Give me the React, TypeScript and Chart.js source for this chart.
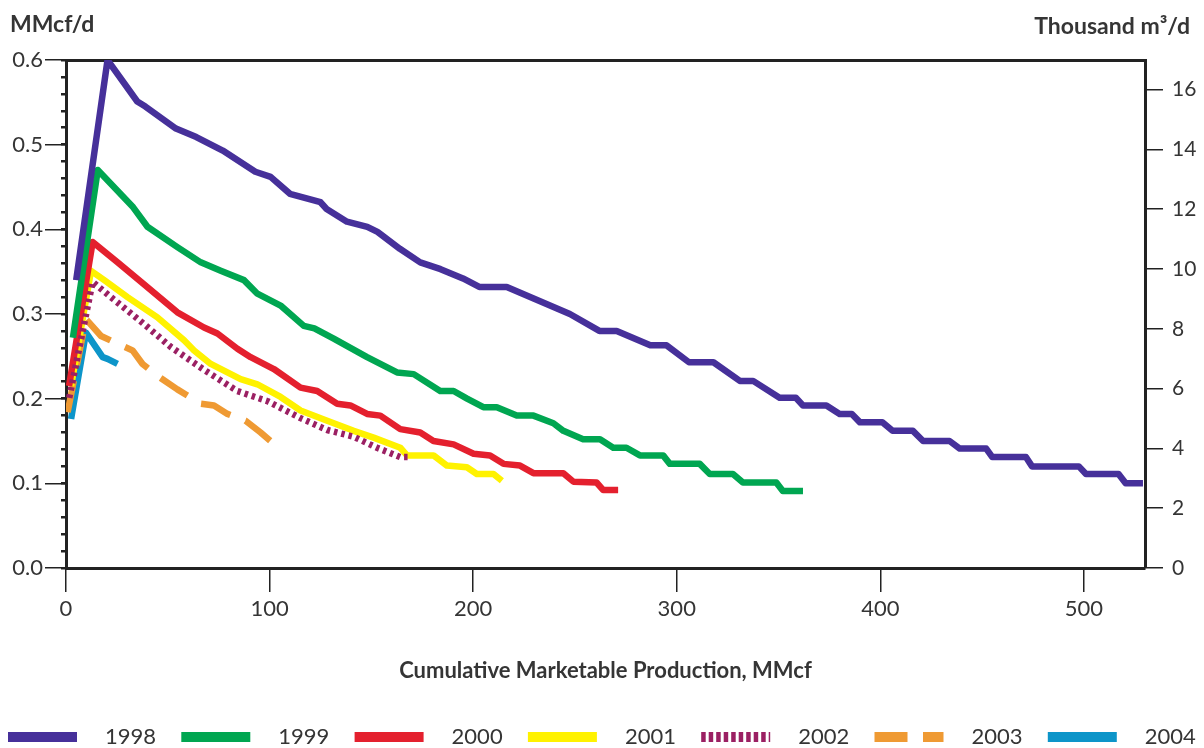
import React, { useEffect, useRef } from 'react';
import { Chart, registerables } from 'chart.js';

Chart.register(...registerables);

// ---- Data (Cumulative Marketable Production MMcf vs MMcf/d) ----
const years = ['1998', '1999', '2000', '2001', '2002', '2003', '2004'];

const x1998 = [5, 20.4, 35, 39, 54, 64, 77, 93, 100.5, 110, 125, 128, 138, 148, 153, 164, 174, 184, 195, 203, 216.5, 230, 247.5, 262, 270.5, 287, 295, 306, 318, 331, 337.5, 350.5, 358.5, 362, 373.5, 380, 386, 390, 401, 406, 416, 421, 434, 439, 452, 455, 471.5, 474.5, 497.5, 501, 517, 520.5, 529];
const y1998 = [0.34, 0.6, 0.551, 0.545, 0.519, 0.509, 0.493, 0.468, 0.462, 0.442, 0.432, 0.424, 0.409, 0.403, 0.397, 0.377, 0.361, 0.353, 0.342, 0.332, 0.332, 0.318, 0.3, 0.28, 0.28, 0.263, 0.263, 0.243, 0.243, 0.221, 0.221, 0.201, 0.201, 0.192, 0.192, 0.182, 0.182, 0.172, 0.172, 0.162, 0.162, 0.15, 0.15, 0.141, 0.141, 0.131, 0.131, 0.12, 0.12, 0.111, 0.111, 0.1, 0.1];

const x1999 = [3.4, 15.6, 33, 40, 54.7, 66.2, 76, 87.4, 94, 105.4, 116.8, 122, 131.5, 147.9, 162.6, 170.8, 183.8, 190.4, 197, 205, 211.6, 221.4, 229.6, 239.4, 244.3, 254, 262.3, 268.8, 275.3, 281.9, 293.3, 296.6, 311.3, 316.2, 327.6, 332.5, 348.9, 352.1, 362];
const y1999 = [0.272, 0.47, 0.426, 0.403, 0.379, 0.361, 0.351, 0.34, 0.324, 0.31, 0.286, 0.283, 0.271, 0.249, 0.231, 0.229, 0.209, 0.209, 0.2, 0.19, 0.19, 0.18, 0.18, 0.171, 0.162, 0.152, 0.152, 0.142, 0.142, 0.133, 0.133, 0.123, 0.123, 0.111, 0.111, 0.101, 0.101, 0.091, 0.091];

const x2000 = [1.5, 13.1, 25.3, 36.8, 54.7, 67.8, 74.4, 84.2, 90.7, 102.1, 115.2, 123.4, 133.2, 139.7, 147.9, 154.4, 164.2, 174, 180.5, 190.4, 200.2, 208.3, 214.9, 223, 229.6, 244.3, 249.2, 260.6, 263.9, 271.2];
const y2000 = [0.215, 0.385, 0.361, 0.338, 0.302, 0.284, 0.277, 0.259, 0.249, 0.235, 0.213, 0.209, 0.194, 0.192, 0.182, 0.18, 0.164, 0.16, 0.15, 0.146, 0.135, 0.133, 0.123, 0.121, 0.112, 0.112, 0.102, 0.101, 0.092, 0.092];

const x2001 = [2.5, 12.3, 18.8, 30.2, 44.9, 58, 62.9, 71.1, 85.8, 94, 105.4, 115.2, 128.3, 141.3, 151.1, 164.2, 167.5, 180.5, 187.1, 196.9, 201.8, 210, 214.1];
const y2001 = [0.215, 0.351, 0.34, 0.32, 0.296, 0.269, 0.257, 0.241, 0.223, 0.217, 0.202, 0.186, 0.174, 0.162, 0.154, 0.142, 0.133, 0.133, 0.121, 0.119, 0.111, 0.111, 0.103];

const x2002 = [1.6, 13.1, 22, 38.4, 51.5, 67.8, 84.2, 99, 115.2, 128.3, 141.3, 152.8, 164.2, 168.3];
const y2002 = [0.201, 0.338, 0.32, 0.288, 0.261, 0.234, 0.209, 0.197, 0.177, 0.163, 0.155, 0.142, 0.131, 0.131];

const x2003 = [0.8, 9.8, 17.2, 27, 32.7, 37.6, 44.9, 54.7, 58.8, 66.2, 72.7, 79.3, 88.2, 95.6, 100.5];
const y2003 = [0.184, 0.294, 0.274, 0.263, 0.257, 0.241, 0.227, 0.211, 0.205, 0.194, 0.192, 0.182, 0.174, 0.16, 0.15];

const x2004 = [2.5, 9.8, 18, 20.4, 25.3];
const y2004 = [0.176, 0.278, 0.249, 0.247, 0.241];

const xSeries = [x1998, x1999, x2000, x2001, x2002, x2003, x2004];
const ySeries = [y1998, y1999, y2000, y2001, y2002, y2003, y2004];

// ---- Axis ticks ----
const xTicks = [0, 100, 200, 300, 400, 500];
const yLeftTicks = [0, 0.1, 0.2, 0.3, 0.4, 0.5, 0.6];
const yRightTicks = [0, 2, 4, 6, 8, 10, 12, 14, 16];
const X_MAX = 530;
const Y_MAX = 0.6;
const M3_PER_MCF = 28.3168; // thousand m3 per MMcf

// ---- Styles ----
const colors = ['#46309A', '#00A651', '#E4202E', '#FFF200', '#9B2063', '#EF9A33', '#0D95C9'];
const dashes = [[], [], [], [], [3.5, 4], [32, 16], []];
const legendDashes = [[], [], [], [], [4.5, 3], [33, 15.5], []];
const AXIS = '#222222';
const TEXT = '#353535';
const FONT = 'Lato';

const overlayPlugin = {
  id: 'overlayText',
  afterDraw(chart: any) {
    const ctx = chart.ctx;
    ctx.save();
    ctx.fillStyle = TEXT;
    ctx.textBaseline = 'middle';
    ctx.font = `bold 23px ${FONT}`;
    ctx.textAlign = 'left';
    ctx.fillText('MMcf/d', 10, 25);
    ctx.textAlign = 'right';
    ctx.fillText('Thousand m³/d', 1190, 27);

    // legend
    const y = 737;
    chart.data.datasets.forEach((ds: any, i: number) => {
      const x0 = 8 + i * 173.3;
      ctx.beginPath();
      ctx.strokeStyle = ds.borderColor;
      ctx.lineWidth = 10;
      ctx.lineCap = 'butt';
      ctx.setLineDash(legendDashes[i]);
      ctx.moveTo(x0, y);
      ctx.lineTo(x0 + 69, y);
      ctx.stroke();
      ctx.setLineDash([]);
      ctx.font = `22px ${FONT}`;
      ctx.textAlign = 'left';
      ctx.fillStyle = TEXT;
      ctx.fillText(ds.label, x0 + 97, y);
    });
    ctx.restore();
  },
};

export default function App() {
  const ref = useRef<HTMLCanvasElement | null>(null);

  useEffect(() => {
    if (!ref.current) return;
    Chart.defaults.font.family = FONT;

    const datasets = years.map((yr, i) => ({
      label: yr,
      data: xSeries[i].map((x, j) => ({ x, y: ySeries[i][j] })),
      borderColor: colors[i],
      backgroundColor: colors[i],
      borderWidth: 6.5,
      borderDash: dashes[i],
      borderJoinStyle: 'round' as const,
      borderCapStyle: 'butt' as const,
      pointRadius: 0,
      tension: 0,
      fill: false,
      order: yr === '2002' ? -1 : 0,
      xAxisID: 'x',
      yAxisID: 'y',
    }));

    const chart = new Chart(ref.current, {
      type: 'line',
      data: { datasets },
      plugins: [overlayPlugin],
      options: {
        responsive: false,
        animation: false,
        layout: { padding: { top: 60, left: 0, right: 0, bottom: 0 } },
        plugins: {
          legend: { display: false },
          tooltip: { enabled: false },
        },
        scales: {
          x: {
            type: 'linear',
            position: 'bottom',
            min: 0,
            max: X_MAX,
            afterBuildTicks: (s: any) => { s.ticks = xTicks.map((v) => ({ value: v })); },
            afterFit: (s: any) => { s.height = 180; },
            grid: { drawOnChartArea: false, drawTicks: true, tickLength: 24, color: AXIS, lineWidth: 1.5 },
            border: { display: true, width: 3, color: AXIS },
            ticks: { padding: 4, color: TEXT, font: { size: 22, family: FONT }, maxRotation: 0, autoSkip: false, callback: (v: any) => String(v) },
            title: {
              display: true,
              text: 'Cumulative Marketable Production, MMcf',
              color: TEXT,
              font: { size: 22, weight: 'bold', family: FONT },
              padding: { top: 0, bottom: 64 },
            },
          },
          x2: {
            type: 'linear',
            position: 'top',
            min: 0,
            max: X_MAX,
            afterFit: (s: any) => { s.height = 0; },
            grid: { display: false, drawTicks: false },
            border: { display: true, width: 3, color: AXIS },
            ticks: { display: false },
          },
          y: {
            type: 'linear',
            position: 'left',
            weight: 1,
            min: 0,
            max: Y_MAX,
            afterBuildTicks: (s: any) => { s.ticks = yLeftTicks.map((v) => ({ value: v })); },
            afterFit: (s: any) => { s.width = 66; },
            grid: { drawOnChartArea: false, drawTicks: true, tickLength: 21, color: AXIS, lineWidth: 1.5 },
            border: { display: true, width: 3, color: AXIS },
            ticks: { padding: 2, color: TEXT, font: { size: 22, family: FONT }, autoSkip: false, callback: (v: any) => Number(v).toFixed(1) },
          },
          yMinor: {
            type: 'linear',
            position: 'left',
            weight: 0,
            min: 0,
            max: Y_MAX,
            afterFit: (s: any) => { s.width = 0; },
            grid: { drawOnChartArea: false, drawTicks: true, tickLength: 5, color: AXIS, lineWidth: 2.5 },
            border: { display: false },
            ticks: { display: false, stepSize: 0.02, maxTicksLimit: 40 },
          },
          y2: {
            type: 'linear',
            position: 'right',
            min: 0,
            max: Y_MAX * M3_PER_MCF,
            afterBuildTicks: (s: any) => { s.ticks = yRightTicks.map((v) => ({ value: v })); },
            afterFit: (s: any) => { s.width = 59; },
            grid: { drawOnChartArea: false, drawTicks: true, tickLength: 18, color: AXIS, lineWidth: 1.5 },
            border: { display: true, width: 3, color: AXIS },
            ticks: { padding: 9, color: TEXT, font: { size: 21, family: FONT }, autoSkip: false, callback: (v: any) => String(v) },
          },
        },
      } as any,
    });

    return () => chart.destroy();
  }, []);

  return (
    <div style={{ position: 'fixed', left: 0, top: 0, width: 1204, height: 748, background: '#ffffff' }}>
      <canvas ref={ref} width={1204} height={748} style={{ display: 'block', width: 1204, height: 748 }} />
    </div>
  );
}
